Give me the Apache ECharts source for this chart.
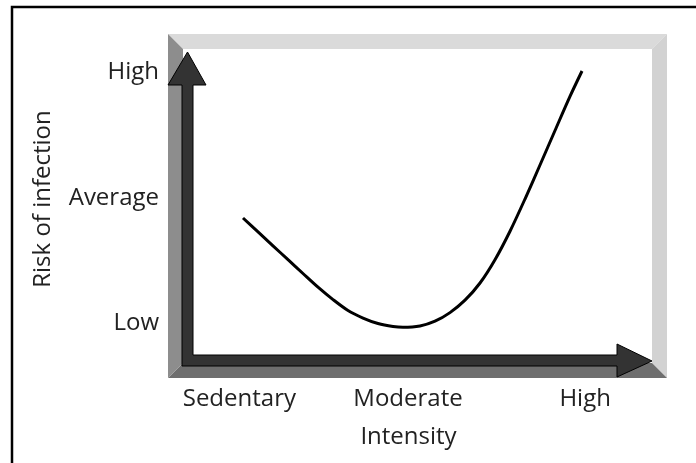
<!DOCTYPE html>
<html>
<head>
<meta charset="utf-8">
<script src="https://cdn.jsdelivr.net/npm/echarts@6/dist/echarts.min.js"></script>
<style>
html,body{margin:0;padding:0;background:#fff;}
#chart{width:696px;height:463px;}
</style>
</head>
<body>
<div id="chart"></div>
<script>
// Data (arbitrary 0-100 units on both axes)
const intensityX = [15.03, 18.04, 21.04, 24.05, 27.05, 30.06, 33.07, 36.07, 39.08, 42.08, 45.09, 47.09,
                    50.50, 53.51, 56.51, 59.52, 62.53, 65.53, 68.54, 71.54, 74.55, 77.56, 80.56, 82.97];
const riskY      = [46.51, 42.47, 38.43, 34.39, 30.38, 26.40, 22.79, 19.62, 17.44, 15.84, 14.97, 14.74,
                    15.12, 16.51, 19.01, 22.62, 27.62, 34.39, 42.67, 52.03, 61.92, 71.95, 81.86, 89.24];
const xTickValues = [14.3, 48.1, 83.6];
const xTickLabels = ['Sedentary', 'Moderate', 'High'];
const yTickValues = [16.0, 52.3, 89.0];
const yTickLabels = ['Low', 'Average', 'High'];

const FONT = 'Open Sans';
const TXT = '#222';
const G = {left: 168, top: 34, right: 29, bottom: 85};
const W = 696, H = 463;
const x0 = G.left, x1 = W - G.right, y0 = G.top, y1 = H - G.bottom;
const b = 15;

const chart = echarts.init(document.getElementById('chart'));
const arrowStyle = {fill: '#333', stroke: '#000', lineWidth: 1};
chart.setOption({
  animation: false,
  grid: {left: G.left, top: G.top, right: G.right, bottom: G.bottom},
  xAxis: {
    type: 'value', min: 0, max: 100,
    axisLine: {show: false}, axisTick: {show: false}, splitLine: {show: false},
    axisLabel: {
      customValues: xTickValues,
      formatter: v => { const i = xTickValues.indexOf(v); return i >= 0 ? xTickLabels[i] : ''; },
      fontFamily: FONT, fontSize: 24, color: TXT, margin: 9
    },
    name: 'Intensity', nameLocation: 'middle', nameGap: 47,
    nameTextStyle: {fontFamily: FONT, fontSize: 24, color: TXT, padding: [0, 18, 0, 0]}
  },
  yAxis: {
    type: 'value', min: 0, max: 100,
    axisLine: {show: false}, axisTick: {show: false}, splitLine: {show: false},
    axisLabel: {
      customValues: yTickValues,
      formatter: v => { const i = yTickValues.indexOf(v); return i >= 0 ? yTickLabels[i] : ''; },
      fontFamily: FONT, fontSize: 24, color: TXT, margin: 9
    },
    name: 'Risk of infection', nameLocation: 'middle', nameGap: 113, nameRotate: 90,
    nameTextStyle: {fontFamily: FONT, fontSize: 24, color: TXT, padding: [0, 0, 0, 14]}
  },
  graphic: [
    {type: 'rect', shape: {x: 12, y: 7, width: 720, height: 480}, style: {fill: 'none', stroke: '#000', lineWidth: 2.5}, z: 1},
    {type: 'polygon', shape: {points: [[x0, y0], [x1, y0], [x1 - b, y0 + b], [x0 + b, y0 + b]]}, style: {fill: '#dadada'}, z: 1},
    {type: 'polygon', shape: {points: [[x1, y0], [x1, y1], [x1 - b, y1 - b], [x1 - b, y0 + b]]}, style: {fill: '#d2d2d2'}, z: 1},
    {type: 'polygon', shape: {points: [[x0, y1], [x1, y1], [x1 - b, y1 - b], [x0 + b, y1 - b]]}, style: {fill: '#6e6e6e'}, z: 1},
    {type: 'polygon', shape: {points: [[x0, y0], [x0 + b, y0 + b], [x0 + b, y1 - b], [x0, y1]]}, style: {fill: '#8d8d8d'}, z: 1},
    // axis arrows
    {type: 'polygon', shape: {points: [[182, 366], [182, 85], [168, 85], [187.5, 52], [206, 85], [193, 85], [193, 355], [617, 355], [617, 344], [652, 361], [617, 377], [617, 366]]}, style: arrowStyle, z: 2}
  ],
  series: [{
    type: 'line',
    data: intensityX.map((x, i) => [x, riskY[i]]),
    showSymbol: false, smooth: 0.3,
    lineStyle: {color: '#000', width: 3}
  }]
});
</script>
</body>
</html>
